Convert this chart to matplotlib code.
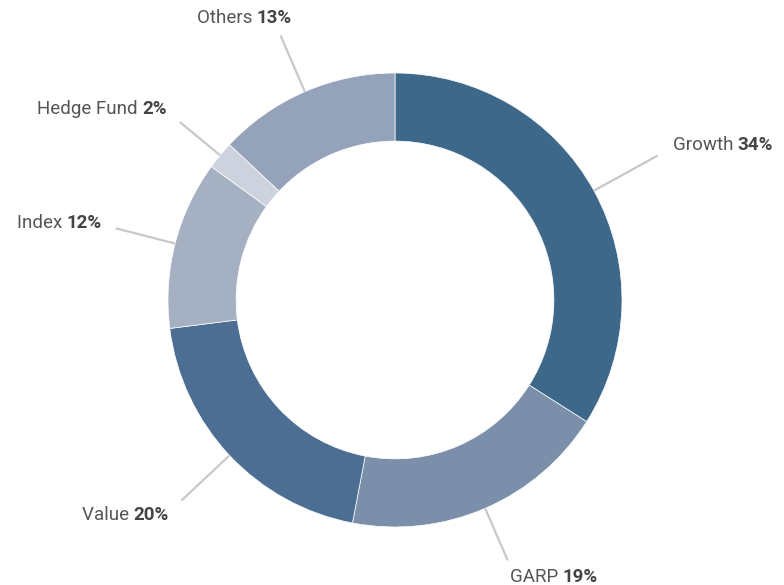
import matplotlib.pyplot as plt
import numpy as np
from matplotlib.offsetbox import TextArea, HPacker, AnnotationBbox

# data
names = ["Growth", "GARP", "Value", "Index", "Hedge Fund", "Others"]
shares = [34, 19, 20, 12, 2, 13]
colors = ["#3e6889", "#7b8fab", "#4c6e92", "#a5b0c3", "#cdd3de", "#95a3ba"]

# layout (pixels): leader length as fraction of radius, text offset from line end, alignment
line_len = [1.32, 1.25, 1.29, 1.27, 1.23, 1.27]
text_off = [(15, 11), (2, -17), (-13, -15), (-14, 5), (-13, 13), (-36, 17)]
text_align = [(0, 0.5), (0, 0.5), (1, 0.5), (1, 0.5), (1, 0.5), (0.5, 0.5)]

W, H = 784, 585
cx, cy, R = 395, H - 300, 227

plt.rcParams['font.family'] = ['Roboto', 'DejaVu Sans']

fig = plt.figure(figsize=(W / 100, H / 100), dpi=100)
ax = fig.add_axes([0, 0, 1, 1])

wedges, _ = ax.pie(shares, colors=colors, startangle=90, counterclock=False,
                   center=(cx, cy), radius=R, frame=True,
                   wedgeprops=dict(width=R * 0.30, edgecolor='white', linewidth=0.5))
ax.set_xlim(0, W)
ax.set_ylim(0, H)
ax.set_aspect('equal')
ax.axis('off')

for i, w in enumerate(wedges):
    ang = np.deg2rad((w.theta1 + w.theta2) / 2)
    x0, y0 = cx + R * np.cos(ang), cy + R * np.sin(ang)
    x1, y1 = cx + R * line_len[i] * np.cos(ang), cy + R * line_len[i] * np.sin(ang)
    ax.plot([x0, x1], [y0, y1], color='#c8c8c8', lw=1.6, solid_capstyle='butt', zorder=1)

    t1 = TextArea(names[i] + " ", textprops=dict(color='#555555', fontsize=13.5))
    t2 = TextArea(f"{shares[i]}%", textprops=dict(color='#444444', fontsize=13.5, fontweight='bold'))
    box = HPacker(children=[t1, t2], align='baseline', pad=0, sep=0)
    ab = AnnotationBbox(box, (x1, y1), xybox=text_off[i], boxcoords='offset pixels',
                        box_alignment=text_align[i], frameon=False, pad=0)
    ax.add_artist(ab)

fig.savefig('out.png', dpi=100)
